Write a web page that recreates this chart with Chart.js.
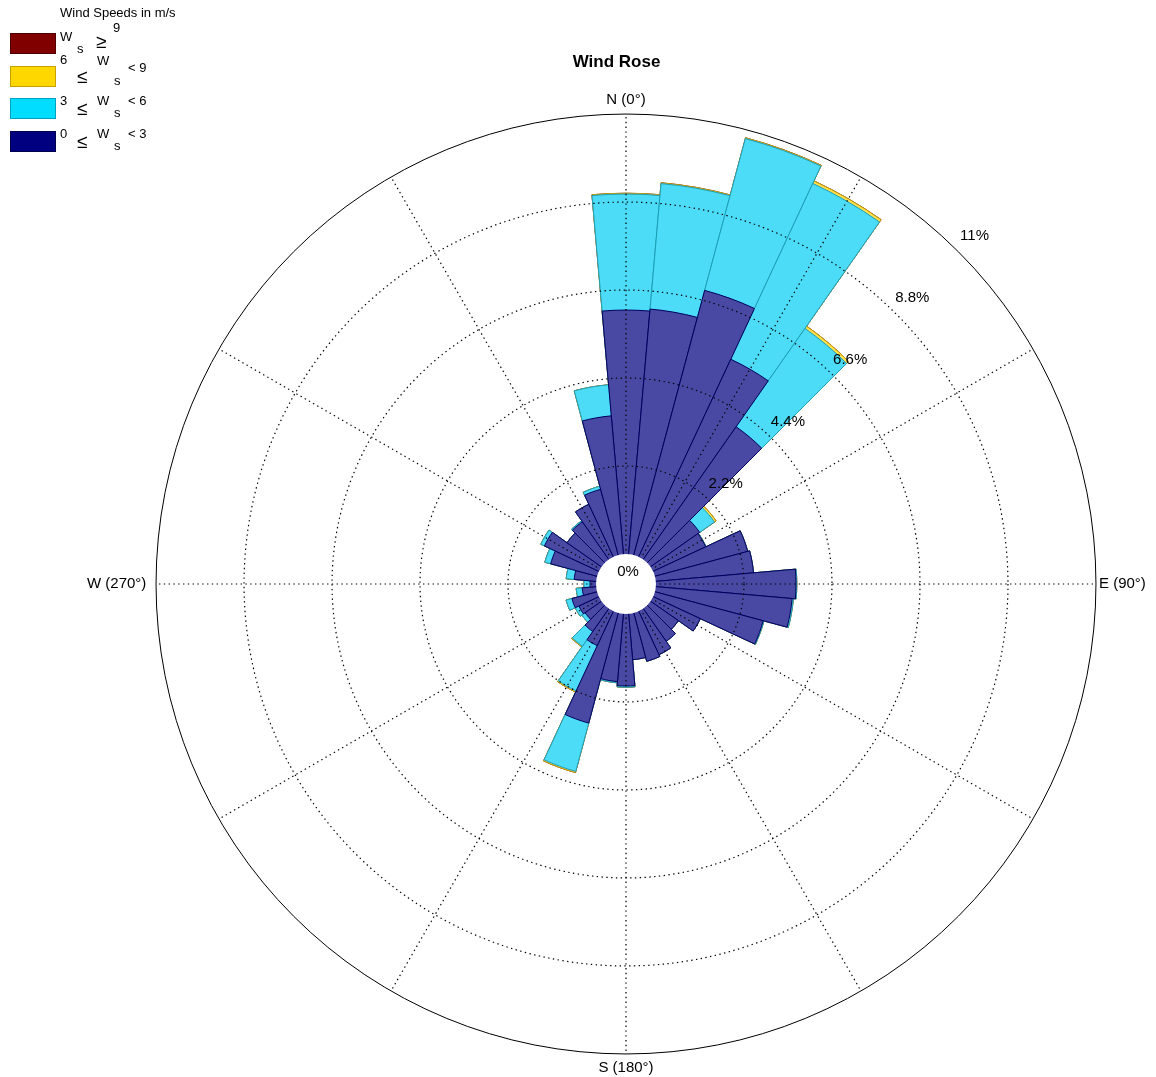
<!DOCTYPE html>
<html>
<head>
<meta charset="utf-8">
<script src="https://cdn.jsdelivr.net/npm/chart.js@4.4.1/dist/chart.umd.min.js"></script>
<style>
  html, body { margin: 0; padding: 0; background: #ffffff; overflow: hidden; }
  #wrap { width: 1156px; height: 1077px; position: relative; }
  #legend { position: absolute; left: 0; top: 0; width: 200px; height: 165px;
            font-family: "Liberation Sans", Arial, Helvetica, sans-serif; color: #000; }
  .lg-title { position: absolute; left: 60px; top: 5px; font-size: 13px; line-height: 15px; white-space: nowrap; }
  .lg-row { position: absolute; left: 0; width: 200px; height: 20px; }
  .lg-box { position: absolute; left: 10px; top: 0; width: 44px; height: 19px; border: 1px solid; }
  .lg-row span.t { position: absolute; font-size: 13px; line-height: 13px; white-space: nowrap; }
  .lg-row span.rel { font-size: 19px; line-height: 19px; }
</style>
</head>
<body>
<div id="wrap"><canvas id="rose"></canvas><div id="legend"></div></div>
<script>
// ---- categories: direction (bar centre, degrees clockwise from north) ----
const directionDeg = [0, 10, 20, 30, 40, 50, 60, 70, 80, 90, 100, 110, 120, 130, 140, 150, 160, 170,
                      180, 190, 200, 210, 220, 230, 240, 250, 260, 270, 280, 290, 300, 310, 320, 330, 340, 350];
const compassDeg = [0, 90, 180, 270];
const compassLabels = ['N (0°)', 'E (90°)', 'S (180°)', 'W (270°)'];

// ---- series: frequency (%) of each wind-speed class per direction ----
const speed0to3 = [6.10, 6.15, 6.85, 5.45, 4.05, 1.50, 1.45, 2.40, 2.45, 3.50, 3.42, 2.80, 1.30, 0.85, 1.00, 1.20, 1.25, 1.15,
                   1.80, 1.70, 2.85, 0.95, 0.70, 0.50, 0.55, 0.65, 0.35, 0.15, 0.55, 1.20, 1.50, 1.05, 1.15, 1.45, 1.70, 3.47];
const speed3to6 = [2.90, 3.15, 3.93, 4.85, 3.00, 0.45, 0.01, 0.00, 0.00, 0.02, 0.03, 0.02, 0.00, 0.00, 0.00, 0.00, 0.00, 0.00,
                   0.03, 0.03, 1.25, 1.25, 0.45, 0.10, 0.10, 0.15, 0.15, 0.15, 0.20, 0.15, 0.10, 0.00, 0.03, 0.00, 0.08, 0.78];
const speed6to9 = [0.02, 0.02, 0.02, 0.07, 0.07, 0.05, 0.00, 0.00, 0.00, 0.00, 0.00, 0.00, 0.00, 0.00, 0.00, 0.00, 0.00, 0.00,
                   0.00, 0.00, 0.03, 0.03, 0.02, 0.00, 0.00, 0.00, 0.00, 0.00, 0.00, 0.00, 0.00, 0.00, 0.00, 0.00, 0.00, 0.00];
const speed9up  = [0, 0, 0, 0, 0, 0, 0, 0, 0, 0, 0, 0, 0, 0, 0, 0, 0, 0,
                   0, 0, 0, 0, 0, 0, 0, 0, 0, 0, 0, 0, 0, 0, 0, 0, 0, 0];
const speedLower = [0, 3, 6, 9];
const speedUpper = [3, 6, 9, null];
const speedClassLabels = ['0 \u2264 Ws < 3', '3 \u2264 Ws < 6', '6 \u2264 Ws < 9', 'Ws \u2265 9'];
const legendTitle = 'Wind Speeds in m/s';

// ---- radial tick values and labels ----
const radiusTicks = [0, 2.2, 4.4, 6.6, 8.8, 11];
const radiusTickLabels = ['0%', '2.2%', '4.4%', '6.6%', '8.8%', '11%'];
const radiusMin = -0.75;   // leaves the empty hole in the middle
const radiusMax = 11;

// stacked rose: each class is drawn as the running total from the centre
const bins = [speed0to3, speed3to6, speed6to9, speed9up];
const cumulative = [];
bins.forEach((arr, k) => {
  cumulative.push(arr.map((v, i) => +(v + (k ? cumulative[k - 1][i] : 0)).toFixed(3)));
});

const FONT = '"Liberation Sans", Arial, Helvetica, sans-serif';
const fillColors   = ['#4949a4', '#4cdcf8', '#ffe14d', '#a64d4d'];
const borderColors = ['#00005e', '#1b9fb8', '#c99a00', '#5c0000'];
const legendFill   = ['#000080', '#00ddff', '#ffd700', '#800000'];
const legendBorder = ['#00004a', '#00a0c0', '#c8a000', '#500000'];

const pointLabelCb = (label) => {
  const k = compassDeg.indexOf(label);
  return k >= 0 ? compassLabels[k] : '';
};
const pointPad = (ctx) => (ctx.index === 27 ? 9.7 : (ctx.index === 9 ? 3 : 5));
const setTicks = (scale) => { scale.ticks = radiusTicks.map(v => ({ value: v })); };

// white hole in the middle + ring value labels placed along the 45° direction of the scale
const holeAndRingLabels = {
  id: 'holeAndRingLabels',
  afterDraw(chart) {
    const s = chart.scales.r;
    const ctx = chart.ctx;
    ctx.save();
    ctx.beginPath();
    ctx.arc(s.xCenter, s.yCenter, s.getDistanceFromCenterForValue(0), 0, Math.PI * 2);
    ctx.fillStyle = '#ffffff';
    ctx.fill();
    ctx.font = '15px ' + FONT;
    ctx.fillStyle = '#000000';
    ctx.textAlign = 'center';
    ctx.textBaseline = 'middle';
    const a = 45 * Math.PI / 180;
    radiusTicks.forEach((v, i) => {
      if (v === 0) {
        ctx.fillText(radiusTickLabels[i], s.xCenter + 2, s.yCenter - 12);
        return;
      }
      const d = s.getDistanceFromCenterForValue(v) + 23;
      ctx.fillText(radiusTickLabels[i], s.xCenter + d * Math.sin(a), s.yCenter - d * Math.cos(a));
    });
    ctx.restore();
  }
};

// HTML legend built from the chart's own legend items
const htmlLegend = {
  id: 'htmlLegend',
  afterUpdate(chart) {
    const host = document.getElementById('legend');
    host.innerHTML = '';
    const title = document.createElement('div');
    title.className = 'lg-title';
    title.textContent = legendTitle;
    host.appendChild(title);
    const items = chart.options.plugins.legend.labels.generateLabels(chart);
    items.forEach((item, i) => {
      const row = document.createElement('div');
      row.className = 'lg-row';
      row.style.top = (33 + i * 32.7) + 'px';
      const sw = document.createElement('span');
      sw.className = 'lg-box';
      sw.style.background = item.fillStyle;
      sw.style.borderColor = item.strokeStyle;
      row.appendChild(sw);
      const k = item.datasetIndex;
      const lo = speedLower[k], hi = speedUpper[k];
      const lift = i === 1 ? -8 : 0;
      const parts = hi === null
        ? [['W', 60, -3.5, ''], ['s', 77, 8.5, ''], ['\u2265', 96, -1, 'rel'], [String(lo), 113, -12.5, '']]
        : [[String(lo), 60, -4.5 + lift, ''], ['\u2264', 77, 1, 'rel'], ['W', 97, -4 + lift, ''], ['s', 114, 8, ''], ['< ' + hi, 128, -4.5, '']];
      parts.forEach(([txt, x, y, cls]) => {
        const sp = document.createElement('span');
        sp.className = 't ' + cls;
        sp.style.left = x + 'px';
        sp.style.top = y + 'px';
        sp.textContent = txt;
        row.appendChild(sp);
      });
      host.appendChild(row);
    });
  }
};

const datasets = bins.map((_, k) => ({
  label: speedClassLabels[k],
  data: cumulative[k],
  rAxisID: 'r',
  backgroundColor: fillColors[k],
  borderColor: borderColors[k],
  borderWidth: 1
}));

const pointLabelOpts = (visible, centered) => ({
  display: true,
  centerPointLabels: centered,
  callback: pointLabelCb,
  padding: pointPad,
  color: visible ? '#000000' : 'rgba(0,0,0,0)',
  font: { family: FONT, size: 15 }
});

new Chart(document.getElementById('rose'), {
  type: 'polarArea',
  data: { labels: directionDeg, datasets },
  plugins: [holeAndRingLabels, htmlLegend],
  options: {
    responsive: true,
    maintainAspectRatio: false,
    animation: false,
    layout: { padding: { left: 77, right: 0, top: 0, bottom: 0 } },
    scales: {
      r: {
        type: 'radialLinear',
        axis: 'r',
        min: radiusMin,
        max: radiusMax,
        startAngle: -5,
        afterBuildTicks: setTicks,
        ticks: { display: false },
        grid: { display: false },
        angleLines: { display: false },
        pointLabels: pointLabelOpts(false, true)
      },
      r2: {
        type: 'radialLinear',
        axis: 'r',
        min: radiusMin,
        max: radiusMax,
        startAngle: 0,
        afterBuildTicks: setTicks,
        ticks: { display: false },
        grid: {
          display: true,
          circular: true,
          z: 1,
          lineWidth: (c) => (c.tick && c.tick.value === radiusMax ? 1 : 1.2),
          color: (c) => (c.index === 0 ? 'rgba(0,0,0,0)' : '#000000')
        },
        border: { dash: (c) => (c.tick && c.tick.value === radiusMax ? [] : [1.4, 3.4]) },
        angleLines: {
          display: true,
          lineWidth: 1.2,
          borderDash: [1.4, 3.4],
          color: (c) => (c.index % 3 === 0 ? '#000000' : 'rgba(0,0,0,0)')
        },
        pointLabels: pointLabelOpts(true, false)
      }
    },
    plugins: {
      title: {
        display: true,
        text: 'Wind Rose',
        fullSize: true,
        color: '#000000',
        font: { family: FONT, size: 17, weight: 'bold' },
        padding: { top: 52, bottom: 18.6 }
      },
      legend: {
        display: false,
        labels: {
          generateLabels: () => [3, 2, 1, 0].map(k => ({
            text: speedClassLabels[k],
            fillStyle: legendFill[k],
            strokeStyle: legendBorder[k],
            lineWidth: 1,
            hidden: false,
            datasetIndex: k
          }))
        }
      },
      tooltip: { enabled: false }
    }
  }
});
</script>
</body>
</html>
